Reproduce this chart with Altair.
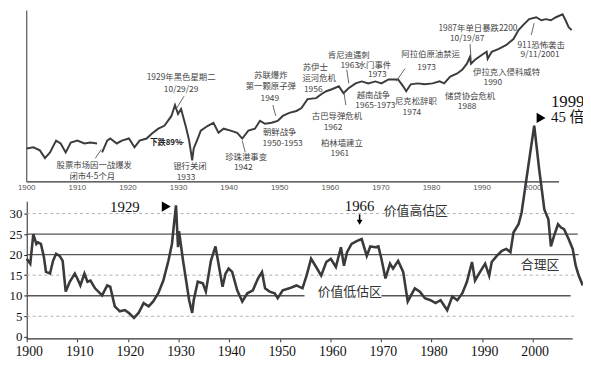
import altair as alt
import pandas as pd

# ---------------- data ----------------
# Top panel: stock index level (log scale)
top_year = [1900.0, 1901.3, 1902.6, 1903.6, 1904.6, 1905.8, 1906.7, 1907.7, 1908.7, 1910.0,
            1911.4, 1912.6, 1913.9, 1914.9, 1915.9, 1916.5, 1917.8, 1918.8, 1920.2, 1921.3,
            1922.3, 1923.7, 1924.7, 1926.0, 1927.2, 1928.6, 1929.3, 1929.9, 1930.5, 1931.5,
            1932.1, 1932.7, 1933.0, 1933.8, 1934.4, 1935.8, 1936.9, 1937.9, 1938.9, 1940.3,
            1941.6, 1942.6, 1943.8, 1945.1, 1946.1, 1947.1, 1948.4, 1949.6, 1950.6, 1951.9,
            1953.3, 1954.3, 1955.5, 1957.2, 1958.2, 1959.2, 1960.3, 1961.7, 1962.6, 1963.6,
            1965.0, 1966.2, 1967.5, 1968.9, 1970.1, 1971.5, 1973.4, 1974.4, 1975.0, 1975.9,
            1977.3, 1978.6, 1980.2, 1981.6, 1982.5, 1983.7, 1985.1, 1986.1, 1987.0, 1987.6,
            1987.8, 1988.6, 1990.0, 1990.9, 1991.1, 1991.9, 1993.3, 1994.8, 1996.2, 1997.2,
            1998.1, 1999.3, 2000.7, 2001.7, 2002.6, 2003.6, 2004.6, 2005.9, 2006.5, 2007.1,
            2007.7]
top_level = [70, 73, 65, 48, 60, 95, 85, 60, 88, 95,
             85, 88, 85, 60, 95, 103, 85, 95, 103, 73,
             95, 103, 124, 151, 169, 248, 379, 268, 325, 157,
             95, 44, 70, 103, 140, 169, 190, 129, 151, 140,
             129, 103, 140, 151, 205, 183, 190, 205, 248, 279,
             301, 337, 477, 496, 578, 648, 700, 785, 600, 727,
             881, 951, 881, 951, 881, 1028, 1028, 785, 648, 849,
             881, 849, 881, 951, 881, 1151, 1293, 1508, 1897, 2484,
             1897, 2213, 2682, 3013, 2300, 3013, 3383, 3934, 4955, 7000,
             8483, 10727, 11560, 10275, 10727, 10275, 11560, 12935, 10275, 7852,
             7000]

# Bottom panel: P/E ratio
pe_year = [1900.0, 1900.7, 1901.3, 1901.9, 1902.2, 1902.8, 1903.4, 1903.8, 1904.6, 1905.2,
           1905.8, 1906.5, 1907.1, 1907.7, 1908.5, 1909.5, 1910.0, 1910.6, 1911.4, 1912.0,
           1912.6, 1913.5, 1914.9, 1915.9, 1916.5, 1917.4, 1918.4, 1919.4, 1920.2, 1921.2,
           1922.1, 1923.1, 1924.1, 1925.0, 1926.0, 1927.0, 1928.0, 1928.7, 1929.1, 1929.5,
           1929.9, 1930.1, 1930.9, 1931.5, 1932.1, 1932.7, 1933.0, 1933.8, 1934.8, 1935.4,
           1936.4, 1937.3, 1937.9, 1938.7, 1939.3, 1939.9, 1940.6, 1941.6, 1942.6, 1943.6,
           1944.7, 1945.7, 1946.5, 1947.1, 1948.0, 1949.0, 1949.6, 1950.6, 1951.9, 1953.3,
           1954.5, 1955.3, 1956.2, 1957.2, 1958.2, 1959.2, 1960.1, 1961.1, 1962.1, 1962.7,
           1963.3, 1964.2, 1965.2, 1966.2, 1967.2, 1967.9, 1968.9, 1969.5, 1970.1, 1970.9,
           1971.8, 1972.4, 1973.4, 1974.4, 1975.3, 1976.7, 1977.7, 1978.7, 1979.8, 1980.8,
           1981.8, 1983.1, 1984.1, 1985.1, 1986.1, 1987.0, 1988.0, 1988.6, 1989.6, 1990.6,
           1991.4, 1991.9, 1992.9, 1993.9, 1994.8, 1995.6, 1996.2, 1997.2, 1997.8, 1999.1,
           2000.3, 2001.3, 2002.3, 2003.1, 2003.6, 2004.2, 2005.0, 2005.6, 2006.2, 2007.1,
           2007.9, 2008.5, 2009.1, 2009.9]
pe_value = [19.0, 17.8, 25.0, 22.6, 23.0, 22.6, 19.4, 15.8, 15.4, 18.5,
            20.2, 19.7, 18.5, 11.0, 13.4, 15.4, 14.2, 12.5, 15.4, 13.4,
            13.7, 11.8, 10.1, 12.5, 12.2, 7.4, 6.2, 6.5, 5.8, 4.6,
            5.8, 8.2, 7.4, 8.6, 10.6, 13.7, 18.5, 22.6, 27.4, 32.0,
            21.8, 25.7, 18.5, 13.7, 8.9, 5.8, 8.9, 13.4, 13.0, 11.0,
            18.5, 22.0, 17.8, 12.2, 15.4, 16.6, 15.8, 11.3, 8.6, 10.6,
            11.3, 14.2, 15.8, 11.8, 11.0, 10.6, 9.4, 11.3, 11.8, 12.5,
            11.8, 14.9, 19.0, 17.0, 14.9, 18.2, 19.0, 17.0, 21.8, 17.3,
            20.6, 22.6, 23.3, 23.8, 19.7, 22.0, 21.8, 22.0, 19.0, 14.2,
            17.8, 16.6, 18.5, 15.8, 8.6, 11.8, 11.0, 9.4, 8.9, 8.2,
            8.9, 6.5, 9.8, 8.9, 10.6, 13.4, 18.2, 13.7, 15.8, 17.8,
            14.9, 18.2, 19.7, 20.9, 21.4, 20.6, 25.4, 27.4, 30.2, 41.3,
            51.4, 40.6, 31.0, 28.6, 22.0, 24.5, 27.4, 26.6, 26.2, 23.8,
            21.4, 17.3, 14.9, 12.5]

axis_years = [1900, 1910, 1920, 1930, 1940, 1950, 1960, 1970, 1980, 1990, 2000]
pe_ticks = [0, 5, 10, 15, 20, 25, 30]

# reference lines of the P/E panel
solid_value = [25, 20, 10, 10]
solid_from = [1900, 1900, 1900, 1970.1]
solid_to = [2008.9, 2009.1, 1954.9, 2007.5]
dashed_value = [30, 15, 5]
dashed_from = [1900, 1900, 1900]
dashed_to = [2008.5, 2008.5, 2008.5]

# event notes of the top panel (anchored at year / index level)
event_text = ["股票市场因一战爆发", "闭市4-5个月", "1929年黑色星期二", "10/29/29",
              "银行关闭", "1933", "珍珠港事变", "1942", "苏联爆炸", "第一颗原子弹", "1949",
              "朝鲜战争", "1950-1953", "苏伊士", "运河危机", "1956", "肯尼迪遇刺", "1963",
              "水门事件", "1973", "阿拉伯原油禁运", "1973", "古巴导弹危机", "1962",
              "柏林墙建立", "1961", "越南战争", "1965-1973", "尼克松辞职", "1974",
              "储贷协会危机", "1988", "1987年单日暴跌2200", "10/19/87",
              "伊拉克入侵科威特", "1990", "911恐怖袭击", "9/11/2001"]
event_year = [1913.35, 1912.96, 1930.51, 1930.51,
              1932.26, 1931.48, 1943.37, 1942.79, 1948.25, 1948.25, 1948.05,
              1950.0, 1950.58, 1957.02, 1957.8, 1956.63, 1963.65, 1963.84,
              1968.71, 1969.3, 1979.82, 1979.04, 1961.31, 1960.53,
              1962.28, 1961.89, 1968.52, 1968.91, 1976.9, 1976.12,
              1987.62, 1987.04, 1989.18, 1987.04,
              1994.83, 1992.11, 2001.66, 2001.46]
event_level = [36.4, 23.9, 1109, 700,
               35.1, 23.0, 49.5, 33.8, 1197, 785, 495,
               134, 88.1, 1692, 1067, 700, 2682, 1827,
               1827, 1245, 2786, 1692, 248, 163,
               88.1, 57.8, 556, 379, 442, 289,
               535, 365, 7555, 5149,
               1344, 915, 3936, 2786]

# leader lines of the notes
lead_y1 = [1913.55, 1931.09, 1943.18, 1948.64, 1963.26, 1962.67, 1974.76, 1987.62, 2000.29, 1929.73]
lead_l1 = [47.7, 535, 60.1, 379, 1508, 648, 1567, 4089, 9153, 88.1]
lead_y2 = [1914.72, 1929.53, 1942.59, 1949.22, 1963.65, 1963.06, 1973.01, 1987.82, 1999.71, 1931.09]
lead_l2 = [67.3, 325, 95.1, 248, 881, 379, 951, 2213, 5775, 88.1]

crash_text = ["下跌89%"]
crash_year = [1927.58]
crash_level = [88.1]

# P/E panel notes
pe_note_text = ["1929", "1966"]
pe_note_year = [1919.4, 1965.79]
pe_note_value = [31.7, 31.9]
peak_text = ["1999"]
peak_year = [2006.92]
peak_value = [57.1]
times_text = ["45 倍"]
times_year = [2006.92]
times_value = [53.5]
zone_text = ["价值高估区", "价值低估区", "合理区"]
zone_year = [1976.9, 1963.84, 2001.46]
zone_value = [30.7, 11.0, 17.5]
mark_year = [1927.58, 2001.66]
mark_value = [31.7, 53.3]
arrow_year = [1965.79]
arrow_from = [29.8]
arrow_to = [27.9]

# ---------------- chart ----------------
PAD_L = 19
W, H = 556, 333
X_END = 1900 + W / 5.13
SERIF = "Liberation Serif, Noto Sans CJK SC"
CJK = "Noto Sans CJK SC"

xscale = alt.Scale(domain=[1900, X_END], nice=False, zero=False)
top_scale = alt.Scale(type="log", domain=[19.7, 15070], range=[173, 0], nice=False)
pe_scale = alt.Scale(domain=[-0.5, 33], range=[333, 193.5], nice=False, zero=False)

xaxis = alt.Axis(values=axis_years, format="d", title=None, domain=False, grid=False,
                 labelFont=SERIF, labelFontSize=14, labelColor="#111", labelFlush=False,
                 tickColor="#333", tickSize=3, labelPadding=3, labelOffset=2)


def X(f):
    return alt.X(f, type="quantitative", scale=xscale, axis=xaxis)


def YT(f):
    return alt.Y(f, type="quantitative", scale=top_scale, axis=None)


def YP(f):
    return alt.Y(f, type="quantitative", scale=pe_scale, axis=None)


top_df = pd.DataFrame({"year": top_year, "level": top_level})
top_df["seg"] = (top_df["year"] > 1914.5).astype(int)
pe_df = pd.DataFrame({"year": pe_year, "pe": pe_value})

top_line = alt.Chart(top_df).mark_line(color="#3c3c3c", strokeWidth=2.0).encode(
    x=X("year"), y=YT("level"), detail="seg:N")

pe_line = alt.Chart(pe_df).mark_line(color="#3a3a3a", strokeWidth=2.6).encode(
    x=X("year"),
    y=alt.Y("pe", type="quantitative", scale=pe_scale,
            axis=alt.Axis(values=pe_ticks, title=None, grid=False, domainColor="#222",
                          tickColor="#222", tickSize=3, labelFont=SERIF, labelFontSize=13,
                          labelColor="#111", labelPadding=2, labelFlush=False)))

solid_df = pd.DataFrame({"v": solid_value, "a": solid_from, "b": solid_to})
solid = alt.Chart(solid_df).mark_rule(color="#555", strokeWidth=1.4).encode(
    x=X("a"), x2=alt.X2("b"), y=YP("v"))

dashed_df = pd.DataFrame({"v": dashed_value, "a": dashed_from, "b": dashed_to})
dashed = alt.Chart(dashed_df).mark_rule(color="#b0b0b0", strokeWidth=1, strokeDash=[3, 3]).encode(
    x=X("a"), x2=alt.X2("b"), y=YP("v"))

bottom_axis = alt.Chart(pd.DataFrame({"a": [1900], "b": [2007.9], "v": [-0.5]})).mark_rule(
    color="#333", strokeWidth=1.2).encode(x=X("a"), x2=alt.X2("b"), y=YP("v"))

top_axis = alt.Chart(pd.DataFrame({"a": [1900], "b": [2005.2], "l": [19.0]})).mark_rule(
    color="#333", strokeWidth=1.2).encode(x=X("a"), x2=alt.X2("b"), y=YT("l"))

top_left = alt.Chart(pd.DataFrame({"a": [1900], "lo": [19.0], "hi": [15070]})).mark_rule(
    color="#555", strokeWidth=1.2).encode(x=X("a"), y=YT("lo"), y2=alt.Y2("hi"))

top_labels = alt.Chart(pd.DataFrame({"year": axis_years, "l": [15.1] * len(axis_years),
                                     "t": [str(y) for y in axis_years]})).mark_text(
    font="Liberation Sans", fontSize=8, color="#555").encode(x=X("year"), y=YT("l"), text="t:N")

events = alt.Chart(pd.DataFrame({"t": event_text, "year": event_year, "l": event_level})).mark_text(
    font=CJK, fontSize=8.5, color="#444").encode(x=X("year"), y=YT("l"), text="t:N")

crash = alt.Chart(pd.DataFrame({"t": crash_text, "year": crash_year, "l": crash_level})).mark_text(
    font=CJK, fontSize=8, fontWeight="bold", color="#222").encode(x=X("year"), y=YT("l"), text="t:N")

leaders = alt.Chart(pd.DataFrame({"a": lead_y1, "la": lead_l1, "b": lead_y2, "lb": lead_l2})).mark_rule(
    color="#555", strokeWidth=0.9).encode(x=X("a"), x2=alt.X2("b"), y=YT("la"), y2=alt.Y2("lb"))

pe_notes = alt.Chart(pd.DataFrame({"t": pe_note_text, "year": pe_note_year, "v": pe_note_value})).mark_text(
    font=SERIF, fontSize=15, color="#111").encode(x=X("year"), y=YP("v"), text="t:N")

peak = alt.Chart(pd.DataFrame({"t": peak_text, "year": peak_year, "v": peak_value})).mark_text(
    font=SERIF, fontSize=17, color="#111").encode(x=X("year"), y=YP("v"), text="t:N")

times = alt.Chart(pd.DataFrame({"t": times_text, "year": times_year, "v": times_value})).mark_text(
    font=SERIF, fontSize=15, color="#111").encode(x=X("year"), y=YP("v"), text="t:N")

zones = alt.Chart(pd.DataFrame({"t": zone_text, "year": zone_year, "v": zone_value})).mark_text(
    font=CJK, fontSize=13, color="#333").encode(x=X("year"), y=YP("v"), text="t:N")

marks = alt.Chart(pd.DataFrame({"year": mark_year, "v": mark_value})).mark_point(
    shape="triangle-right", filled=True, size=110, color="#000", opacity=1).encode(
    x=X("year"), y=YP("v"))

arrow_shaft = alt.Chart(pd.DataFrame({"year": arrow_year, "a": arrow_from, "b": arrow_to})).mark_rule(
    color="#000", strokeWidth=1.6).encode(x=X("year"), y=YP("a"), y2=alt.Y2("b"))

arrow_head = alt.Chart(pd.DataFrame({"year": arrow_year, "b": arrow_to})).mark_point(
    shape="triangle-down", filled=True, size=35, color="#000", opacity=1).encode(
    x=X("year"), y=YP("b"))

chart = alt.layer(
    dashed, solid, bottom_axis, pe_line,
    top_axis, top_left, top_labels, top_line, leaders, events, crash,
    pe_notes, peak, times, zones, marks, arrow_shaft, arrow_head,
).resolve_scale(y="independent").properties(
    width=W, height=H,
    padding={"left": PAD_L, "top": 0, "right": 8, "bottom": 18},
    autosize=alt.AutoSizeParams(type="none"),
).configure_view(stroke=None)

chart.save("out.html", embed_options={"renderer": "svg", "actions": False})
